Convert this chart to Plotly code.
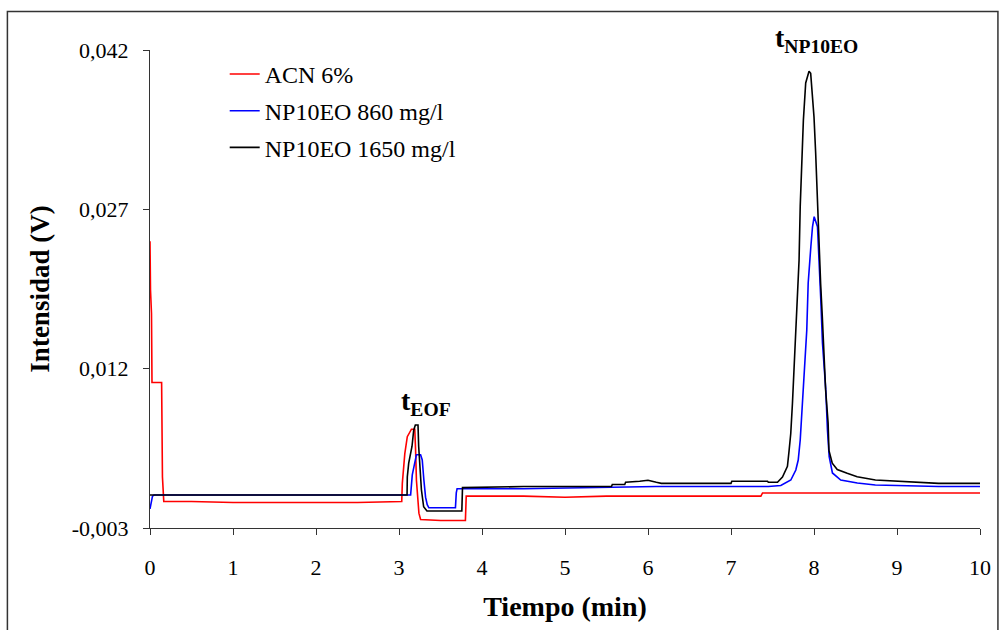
import plotly.graph_objects as go

# ---------------- data ----------------
series_names = ["ACN 6%", "NP10EO 860 mg/l", "NP10EO 1650 mg/l"]
series_colors = ["#ff0000", "#0000ff", "#000000"]

red_t = [0.000, 0.006, 0.018, 0.024, 0.140, 0.150, 0.166, 0.5, 1.0, 1.5, 2.0, 2.5,
         3.033, 3.040, 3.070, 3.100, 3.150, 3.190, 3.200, 3.210, 3.240, 3.260, 3.500, 3.800,
         3.810, 4.5, 5.0, 5.5, 6.0, 6.5, 7.0, 7.36, 7.38, 8.0, 9.0, 10.0]
red_v = [0.0240, 0.0194, 0.0172, 0.0107, 0.0107, 0.0018, -0.0005, -0.0005, -0.0006, -0.0006, -0.0006, -0.0006,
         -0.0005, 0.0012, 0.0040, 0.0056, 0.0063, 0.0063, 0.0043, 0.0015, -0.0016, -0.0022, -0.0023, -0.0023,
         0.0000, 0.0000, -0.0001, 0.0000, 0.0000, 0.0000, 0.0000, 0.0000, 0.0003, 0.0003, 0.0003, 0.0003]

blue_t = [0.000, 0.010, 0.030, 0.050, 1.0, 2.0, 3.0, 3.140, 3.160, 3.200, 3.210, 3.260,
          3.280, 3.300, 3.320, 3.340, 3.360, 3.500, 3.680, 3.690, 3.700, 4.5, 5.5, 6.1,
          7.0, 7.45, 7.60, 7.721, 7.781, 7.810, 7.834, 7.862, 7.882, 7.913, 7.930, 7.954,
          7.962, 7.982, 8.002, 8.042, 8.062, 8.082, 8.102, 8.142, 8.162, 8.183, 8.222, 8.322,
          8.522, 8.739, 9.0, 9.5, 10.0]
blue_v = [-0.0012, -0.0008, 0.0000, 0.0001, 0.0001, 0.0001, 0.0001, 0.0001, 0.0020, 0.0036, 0.0039, 0.0039,
          0.0034, 0.0015, -0.0001, -0.0008, -0.0011, -0.0011, -0.0011, 0.0003, 0.0007, 0.0007, 0.0008, 0.0009,
          0.0009, 0.0009, 0.0010, 0.00152, 0.00246, 0.00340, 0.00528, 0.00877, 0.01159, 0.01564, 0.02006, 0.02317,
          0.02348, 0.02536, 0.02631, 0.02536, 0.02254, 0.01846, 0.01442, 0.00999, 0.00623, 0.00371, 0.00218, 0.00152,
          0.00124, 0.00105, 0.0010, 0.0009, 0.0009]

black_t = [0.0, 1.0, 2.0, 3.0, 3.097, 3.100, 3.117, 3.157, 3.177, 3.197, 3.229, 3.237,
           3.258, 3.270, 3.297, 3.337, 3.5, 3.757, 3.765, 4.5, 5.56, 5.57,
           5.72, 5.73, 5.9, 6.0, 6.1, 6.16, 6.6, 7.0, 7.01, 7.44, 7.45, 7.56,
           7.62, 7.68, 7.70, 7.72, 7.74, 7.76, 7.78, 7.80, 7.82, 7.834, 7.854, 7.872,
           7.90, 7.92, 7.94, 7.96, 7.97, 8.00, 8.02, 8.04, 8.06, 8.08, 8.10, 8.12,
           8.14, 8.17, 8.18, 8.22, 8.28, 8.40, 8.52, 8.74, 9.0, 9.5, 10.0]
black_v = [0.0001, 0.0001, 0.0001, 0.0001, 0.0001, 0.0018, 0.0031, 0.0047, 0.0062, 0.0067, 0.0067, 0.0047,
           0.0025, 0.0006, -0.0010, -0.0014, -0.0014, -0.0014, 0.0008, 0.0009, 0.0009, 0.0011,
           0.0011, 0.0013, 0.0014, 0.0015, 0.0013, 0.0012, 0.0012, 0.0012, 0.0014, 0.0014, 0.0013, 0.0013,
           0.0018, 0.0028, 0.0043, 0.0059, 0.0087, 0.0122, 0.0153, 0.0191, 0.0222, 0.0273, 0.0320, 0.0354,
           0.0389, 0.0395, 0.0400, 0.0398, 0.0389, 0.0357, 0.0323, 0.0276, 0.0235, 0.0200, 0.0169, 0.0131,
           0.0100, 0.0069, 0.0043, 0.0031, 0.0025, 0.00215, 0.00183, 0.00152, 0.0014, 0.0012, 0.0012]

x_ticks = [0, 1, 2, 3, 4, 5, 6, 7, 8, 9, 10]
y_ticks = [-0.003, 0.012, 0.027, 0.042]
y_ticktext = ["-0,003", "0,012", "0,027", "0,042"]

FONT = "Liberation Serif"

fig = go.Figure()
for name, color, t, v in zip(series_names, series_colors,
                             [red_t, blue_t, black_t], [red_v, blue_v, black_v]):
    fig.add_trace(go.Scatter(x=t, y=v, mode="lines", name=name, legendgroup=name,
                             line=dict(color=color, width=1.6)))

fig.update_layout(
    width=1003, height=630,
    margin=dict(l=150, r=20, t=50, b=102),
    paper_bgcolor="white", plot_bgcolor="white",
    font=dict(family=FONT, color="black"),
    showlegend=True,
    legend=dict(x=0.090, y=0.996, xanchor="left", yanchor="top",
                font=dict(family=FONT, size=24, color="black"),
                bgcolor="rgba(0,0,0,0)", tracegroupgap=2.5),
    xaxis=dict(range=[0, 10], tickvals=x_ticks, ticks="outside", ticklen=6,
               tickcolor="#333", showline=True, linecolor="#333", linewidth=1,
               showgrid=False, zeroline=False, ticklabelstandoff=14,
               tickfont=dict(family=FONT, size=22, color="black"),
               title=dict(text="<b>Tiempo (min)</b>", standoff=16,
                          font=dict(family=FONT, size=28, color="black"))),
    yaxis=dict(range=[-0.003, 0.042], tickvals=y_ticks, ticktext=y_ticktext,
               ticks="outside", ticklen=6, tickcolor="#333", showline=True,
               linecolor="#333", linewidth=1, showgrid=False, zeroline=False,
               ticklabelstandoff=10,
               tickfont=dict(family=FONT, size=22, color="black"),
               title=dict(text="<b>Intensidad (V)</b>", standoff=14,
                          font=dict(family=FONT, size=27, color="black"))),
)

# outer frame
fig.add_shape(type="rect", xref="paper", yref="paper",
              x0=-0.1718, x1=1.0216, y0=-0.26, y1=1.0805,
              line=dict(color="#333", width=1.5), fillcolor="rgba(0,0,0,0)", layer="below")

# peak labels
fig.add_annotation(x=3.0, y=0.0088, xref="x", yref="y", xanchor="left", yanchor="middle",
                   text="<b>t<sub>EOF</sub></b>", showarrow=False,
                   font=dict(family=FONT, size=28, color="black"))
fig.add_annotation(x=7.5, y=1.021, xref="x", yref="paper", xanchor="left", yanchor="middle",
                   text="<b>t<sub>NP10EO</sub></b>", showarrow=False,
                   font=dict(family=FONT, size=28, color="black"))

fig.write_html("out.html", config={"displayModeBar": False},
               post_script="document.body.style.margin='0';")
